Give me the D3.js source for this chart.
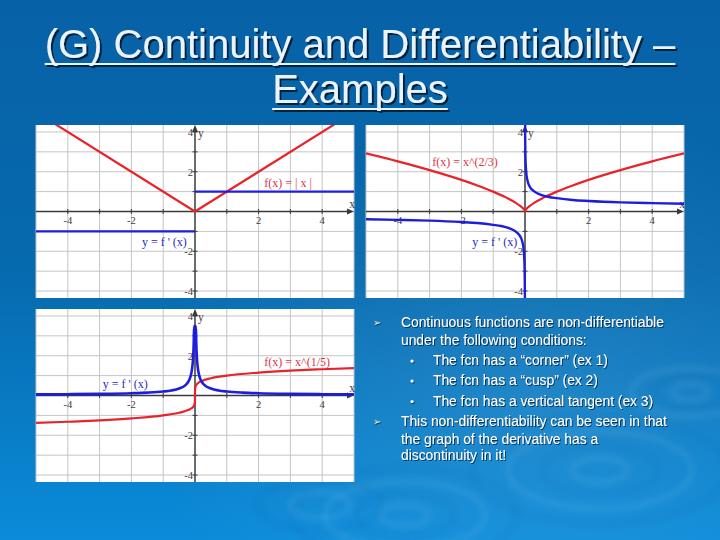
<!DOCTYPE html>
<meta charset="utf-8">
<script src="https://cdn.jsdelivr.net/npm/d3@7"></script>
<style>
  body { margin: 0; background: #0a64a8; }
  svg { display: block; }
</style>
<div id="slide"></div>
<script>
// ---- values ----
const xTickLabels = [-4, -2, 2, 4];
const yTickLabels = [4, 2, -2, -4];

// ex 1 : f(x) = |x|
const absX = [-5, 0, 5];
const absY = [5, 0, 5];
const absDerivLeftX = [-5, 0];
const absDerivLeftY = [-1, -1];
const absDerivRightX = [0, 5];
const absDerivRightY = [1, 1];

// ex 2 : f(x) = x^(2/3)
const cuspLeftX = [-5, -4, -3, -2, -1.5, -1, -0.6, -0.3, -0.15, -0.05, -0.01, 0];
const cuspLeftY = [2.92, 2.52, 2.08, 1.59, 1.31, 1.00, 0.71, 0.45, 0.28, 0.14, 0.05, 0];
const cuspRightX = [0, 0.01, 0.05, 0.15, 0.3, 0.6, 1, 1.5, 2, 3, 4, 5];
const cuspRightY = [0, 0.05, 0.14, 0.28, 0.45, 0.71, 1.00, 1.31, 1.59, 2.08, 2.52, 2.92];
const cuspDerivLeftX = [-5, -4, -3, -2, -1.5, -1, -0.75, -0.5, -0.3, -0.15, -0.08, -0.04, -0.02, -0.01, -0.006, -0.003];
const cuspDerivLeftY = [-0.39, -0.42, -0.46, -0.53, -0.58, -0.67, -0.73, -0.84, -1.00, -1.25, -1.55, -1.95, -2.46, -3.09, -3.67, -4.62];
const cuspDerivRightX = [0.003, 0.006, 0.01, 0.02, 0.04, 0.08, 0.15, 0.3, 0.5, 0.75, 1, 1.5, 2, 3, 4, 5];
const cuspDerivRightY = [4.62, 3.67, 3.09, 2.46, 1.95, 1.55, 1.25, 1.00, 0.84, 0.73, 0.67, 0.58, 0.53, 0.46, 0.42, 0.39];

// ex 3 : f(x) = x^(1/5)
const rootX = [-5, -4, -3, -2, -1, -0.5, -0.2, -0.1, -0.03, -0.01, -0.001, -0.0001, 0, 0.0001, 0.001, 0.01, 0.03, 0.1, 0.2, 0.5, 1, 2, 3, 4, 5];
const rootY = [-1.38, -1.32, -1.25, -1.15, -1, -0.87, -0.72, -0.63, -0.50, -0.40, -0.25, -0.16, 0, 0.16, 0.25, 0.40, 0.50, 0.63, 0.72, 0.87, 1, 1.15, 1.25, 1.32, 1.38];
const rootDerivX = [-5, -4, -3, -2, -1.5, -1, -0.75, -0.5, -0.3, -0.2, -0.15, -0.1, -0.06, -0.04, -0.028,
                    0.028, 0.04, 0.06, 0.1, 0.15, 0.2, 0.3, 0.5, 0.75, 1, 1.5, 2, 3, 4, 5];
const rootDerivY = [0.055, 0.066, 0.083, 0.115, 0.145, 0.2, 0.25, 0.35, 0.52, 0.72, 0.91, 1.26, 1.90, 2.63, 3.49,
                    3.49, 2.63, 1.90, 1.26, 0.91, 0.72, 0.52, 0.35, 0.25, 0.2, 0.145, 0.115, 0.083, 0.066, 0.055];

const titleLines = ["(G) Continuity and Differentiability \u2013", "Examples"];
const bulletLines = [
  {level: 1, text: "Continuous functions are non-differentiable", mark: true},
  {level: 1, text: "under the following conditions:"},
  {level: 2, text: "The fcn has a \u201ccorner\u201d (ex 1)", mark: true},
  {level: 2, text: "The fcn has a \u201ccusp\u201d (ex 2)", mark: true},
  {level: 2, text: "The fcn has a vertical tangent  (ex 3)", mark: true},
  {level: 1, text: "This non-differentiability can be seen in that", mark: true},
  {level: 1, text: "the graph of the derivative has a"},
  {level: 1, text: "discontinuity in it!"}
];

// ---- layout ----
const W = 720, H = 540;
const red = "#e8232b", blue = "#1d1de0";
const redText = "#e0304c", blueText = "#2a2ac8";

const panels = [
  {left: 36, top: 125,
   series: [
     {x: absX, y: absY, color: red, w: 2.2},
     {x: absDerivLeftX, y: absDerivLeftY, color: blue, w: 2.4},
     {x: absDerivRightX, y: absDerivRightY, color: blue, w: 2.4}
   ],
   labels: [
     {text: "f(x) = | x |", x: 2.18, y: 1.42, color: redText},
     {text: "y = f ' (x)", x: -1.67, y: -1.52, color: blueText}
   ]},
  {left: 366, top: 125,
   series: [
     {x: cuspLeftX, y: cuspLeftY, color: red, w: 2.2, smooth: true},
     {x: cuspRightX, y: cuspRightY, color: red, w: 2.2, smooth: true},
     {x: cuspDerivLeftX, y: cuspDerivLeftY, color: blue, w: 2.4, smooth: true},
     {x: cuspDerivRightX, y: cuspDerivRightY, color: blue, w: 2.4, smooth: true}
   ],
   labels: [
     {text: "f(x) = x^(2/3)", x: -2.92, y: 2.47, color: redText},
     {text: "y = f ' (x)", x: -1.66, y: -1.52, color: blueText}
   ]},
  {left: 36, top: 309,
   series: [
     {x: rootX, y: rootY, color: red, w: 2.2, smooth: true},
     {x: rootDerivX, y: rootDerivY, color: blue, w: 2.6, smooth: true}
   ],
   labels: [
     {text: "y = f ' (x)", x: -2.90, y: 0.58, color: blueText},
     {text: "f(x) = x^(1/5)", x: 2.18, y: 1.68, color: redText}
   ]}
];
const pw = 318, ph = 173;

const svg = d3.select("#slide").append("svg")
  .attr("width", W).attr("height", H);
const defs = svg.append("defs");

// background
const bg = defs.append("linearGradient").attr("id", "bg")
  .attr("x1", 0).attr("y1", 0).attr("x2", 0).attr("y2", 1);
bg.append("stop").attr("offset", "0%").attr("stop-color", "#0861a6");
bg.append("stop").attr("offset", "50%").attr("stop-color", "#066aae");
bg.append("stop").attr("offset", "100%").attr("stop-color", "#0b8bd9");
const glow = defs.append("radialGradient").attr("id", "glow")
  .attr("cx", "75%").attr("cy", "75%").attr("r", "55%");
glow.append("stop").attr("offset", "0%").attr("stop-color", "#ffffff").attr("stop-opacity", 0.10);
glow.append("stop").attr("offset", "100%").attr("stop-color", "#ffffff").attr("stop-opacity", 0);

const shadow = defs.append("filter").attr("id", "shadow")
  .attr("x", "-5%").attr("y", "-30%").attr("width", "115%").attr("height", "170%");
shadow.append("feDropShadow").attr("dx", 2).attr("dy", 2).attr("stdDeviation", 0.7)
  .attr("flood-color", "#00172e").attr("flood-opacity", 0.85);
const shadowSm = defs.append("filter").attr("id", "shadowSm")
  .attr("x", "-5%").attr("y", "-30%").attr("width", "115%").attr("height", "170%");
shadowSm.append("feDropShadow").attr("dx", 1).attr("dy", 1).attr("stdDeviation", 0.5)
  .attr("flood-color", "#00213f").attr("flood-opacity", 0.8);
const blur = defs.append("filter").attr("id", "blur");
blur.append("feGaussianBlur").attr("stdDeviation", 2.5);

svg.append("rect").attr("width", W).attr("height", H).attr("fill", "url(#bg)");
svg.append("rect").attr("width", W).attr("height", H).attr("fill", "url(#glow)");

// faint water ripples in the lower part
const ripples = [
  {cx: 600, cy: 470, r: [28, 58, 92, 128]},
  {cx: 405, cy: 515, r: [24, 50, 80, 112]},
  {cx: 690, cy: 392, r: [18, 38, 58]},
  {cx: 320, cy: 505, r: [30, 62]}
];
const rip = svg.append("g").attr("filter", "url(#blur)");
ripples.forEach(rp => {
  rp.r.forEach((r, i) => {
    rip.append("ellipse")
      .attr("cx", rp.cx).attr("cy", rp.cy)
      .attr("rx", r).attr("ry", r * 0.42)
      .attr("fill", "none")
      .attr("stroke", i % 2 ? "#004a8a" : "#ffffff")
      .attr("stroke-opacity", i % 2 ? 0.07 : 0.06)
      .attr("stroke-width", 6);
  });
});

// title
const title = svg.append("g")
  .attr("font-family", "'Liberation Sans', Arial, sans-serif")
  .attr("font-size", 40)
  .attr("fill", "#eaf4ff")
  .attr("filter", "url(#shadow)");
const titleBase = [58, 103];
titleLines.forEach((t, i) => {
  const tx = title.append("text")
    .attr("x", W / 2).attr("y", titleBase[i])
    .attr("text-anchor", "middle")
    .text(t);
  const len = tx.node().getComputedTextLength();
  title.append("rect")
    .attr("x", W / 2 - len / 2).attr("y", titleBase[i] + 5)
    .attr("width", len).attr("height", 2);
});

// graphs
panels.forEach((p, k) => {
  const x = d3.scaleLinear().domain([-5, 5]).range([0, pw]);
  const y = d3.scaleLinear().domain([-4.35, 4.35]).range([ph, 0]);
  const g = svg.append("g").attr("transform", `translate(${p.left},${p.top})`);

  defs.append("clipPath").attr("id", "clip" + k)
    .append("rect").attr("width", pw).attr("height", ph);

  g.append("rect").attr("width", pw).attr("height", ph).attr("fill", "#ffffff");

  // grid every unit
  const grid = g.append("g").attr("stroke", "#c4c4c4").attr("stroke-width", 1);
  d3.range(-5, 6).forEach(v => {
    grid.append("line").attr("x1", x(v)).attr("x2", x(v)).attr("y1", 0).attr("y2", ph);
  });
  d3.range(-4, 5).forEach(v => {
    grid.append("line").attr("x1", 0).attr("x2", pw).attr("y1", y(v)).attr("y2", y(v));
  });

  // axes
  const ax = g.append("g").attr("stroke", "#3a3a3a").attr("stroke-width", 1.4);
  ax.append("line").attr("x1", 0).attr("x2", pw - 3).attr("y1", y(0)).attr("y2", y(0));
  ax.append("line").attr("x1", x(0)).attr("x2", x(0)).attr("y1", ph).attr("y2", 3);
  g.append("path")
    .attr("d", `M${pw},${y(0)} l-7,-3 v6 z`).attr("fill", "#3a3a3a");
  g.append("path")
    .attr("d", `M${x(0)},0 l-3,7 h6 z`).attr("fill", "#3a3a3a");
  d3.range(-4, 5).filter(v => v !== 0).forEach(v => {
    ax.append("line").attr("x1", x(v)).attr("x2", x(v))
      .attr("y1", y(0) - 2.5).attr("y2", y(0) + 2.5).attr("stroke-width", 1);
    ax.append("line").attr("y1", y(v)).attr("y2", y(v))
      .attr("x1", x(0) - 2.5).attr("x2", x(0) + 2.5).attr("stroke-width", 1);
  });

  // tick labels
  const tl = g.append("g")
    .attr("font-family", "'Liberation Serif', 'Times New Roman', serif")
    .attr("font-size", 10.5).attr("fill", "#404040");
  xTickLabels.forEach(v => {
    tl.append("text").attr("x", x(v)).attr("y", y(0) + 12)
      .attr("text-anchor", "middle").text(v < 0 ? "-" + Math.abs(v) : v);
  });
  yTickLabels.forEach(v => {
    tl.append("text").attr("x", x(0) - 2).attr("y", y(v) + 3.8)
      .attr("text-anchor", "end").text(v < 0 ? "-" + Math.abs(v) : v);
  });
  tl.append("text").attr("x", x(0) + 3).attr("y", y(3.95) + 4).attr("font-size", 11.5).text("y");
  tl.append("text").attr("x", x(4.85)).attr("y", y(0.38) + 4).attr("font-size", 11.5).text("x");

  // curves
  const cg = g.append("g").attr("clip-path", `url(#clip${k})`);
  p.series.forEach(s => {
    const line = d3.line()
      .x(d => x(d[0])).y(d => y(d[1]))
      .curve(s.smooth ? d3.curveMonotoneX : d3.curveLinear);
    cg.append("path")
      .datum(d3.zip(s.x, s.y))
      .attr("d", line)
      .attr("fill", "none")
      .attr("stroke", s.color)
      .attr("stroke-width", s.w)
      .attr("stroke-linejoin", "round");
  });

  // curve labels
  p.labels.forEach(l => {
    g.append("text")
      .attr("x", x(l.x)).attr("y", y(l.y) + 4)
      .attr("font-family", "'Liberation Serif', 'Times New Roman', serif")
      .attr("font-size", 12)
      .attr("fill", l.color)
      .text(l.text);
  });
});

// bullet text
const bullets = svg.append("g")
  .attr("font-family", "'Liberation Sans', Arial, sans-serif")
  .attr("font-size", 13.8)
  .attr("fill", "#ffffff")
  .attr("filter", "url(#shadowSm)");
const baselines = [327, 344.5, 365, 385, 405.5, 426, 443.5, 460];
bulletLines.forEach((b, i) => {
  const tx = b.level === 1 ? 401 : 433;
  bullets.append("text").attr("x", tx).attr("y", baselines[i]).text(b.text);
  if (b.mark) {
    if (b.level === 1) {
      bullets.append("text").attr("x", 373).attr("y", baselines[i] - 1)
        .attr("font-family", "'DejaVu Sans', sans-serif")
        .attr("font-size", 10).attr("fill", "#d6efc4").text("\u27a2");
    } else {
      bullets.append("circle").attr("cx", 412).attr("cy", baselines[i] - 4)
        .attr("r", 1.6).attr("fill", "#ffffff");
    }
  }
});
</script>
